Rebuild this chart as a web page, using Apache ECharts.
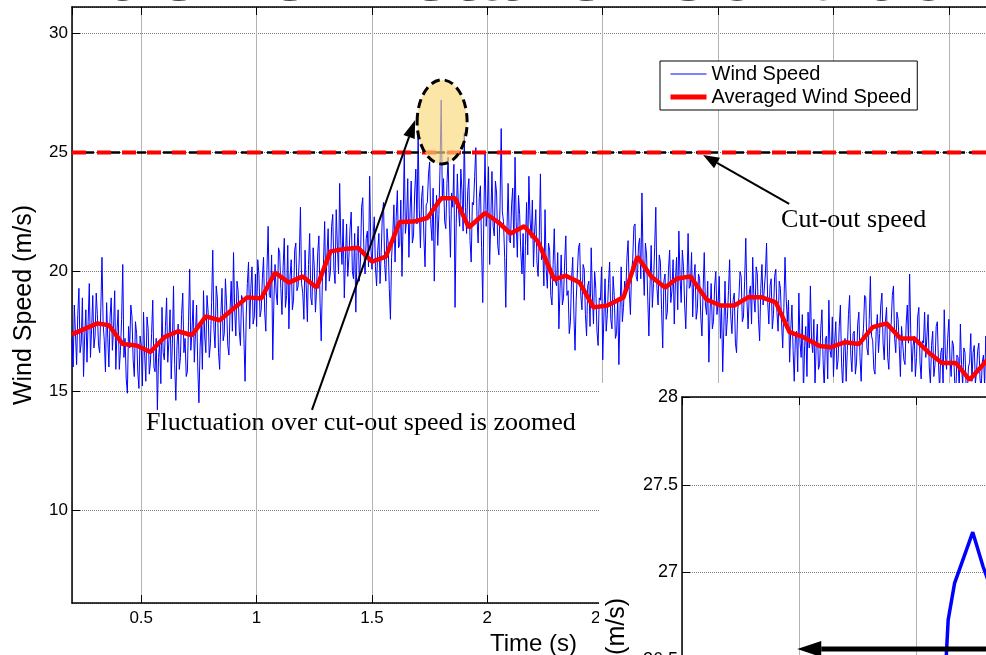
<!DOCTYPE html>
<html>
<head>
<meta charset="utf-8">
<title>Extreme Weather Condition</title>
<script src="https://cdn.jsdelivr.net/npm/echarts@6/dist/echarts.min.js"></script>
<style>
  html, body { margin: 0; padding: 0; background: #fff; }
  #chart { width: 986px; height: 655px; }
</style>
</head>
<body>
<div id="chart"></div>
<script>
// measured wind speed, one sample every 0.005 s starting at 0.200 s
const windStart = 0.2
const windStep = 0.005
const windSpeed = [
  17.2, 16.0, 18.6, 17.4, 16.1, 18.2, 19.3, 16.6, 17.0, 18.9, 15.6, 17.3, 18.4, 16.2, 17.9, 19.5, 16.4, 17.6, 19.0, 16.8,
  17.3, 19.1, 18.2, 16.9, 16.6, 18.5, 20.6, 17.8, 17.1, 15.8, 18.7, 17.2, 16.0, 18.1, 18.9, 16.7, 17.6, 19.2, 15.9, 17.5,
  18.4, 15.9, 16.7, 18.0, 20.3, 16.4, 17.2, 15.5, 14.9, 17.7, 16.8, 18.6, 18.1, 16.3, 15.6, 17.9, 17.4, 15.8, 15.1, 17.3,
  16.9, 15.2, 18.3, 16.5, 15.4, 18.1, 17.6, 15.7, 16.2, 17.4, 18.8, 16.0, 15.8, 17.2, 14.2, 16.4, 17.0, 15.3, 18.5, 16.6,
  16.3, 17.7, 18.9, 16.2, 17.1, 18.4, 15.5, 17.0, 19.4, 16.1, 14.6, 16.9, 17.8, 15.9, 16.4, 18.2, 19.1, 16.6, 17.2, 15.6,
  15.8, 17.9, 20.1, 16.7, 17.5, 18.8, 16.2, 17.4, 18.6, 16.0, 14.5, 16.8, 17.9, 15.9, 19.2, 17.3, 16.6, 19.0, 18.3, 16.4,
  17.0, 18.7, 20.9, 17.6, 16.8, 19.4, 18.9, 16.6, 15.9, 18.2, 19.3, 17.1, 17.4, 19.7, 18.6, 16.9, 16.5, 18.4, 19.6, 17.5,
  20.8, 18.4, 17.3, 19.6, 19.2, 17.5, 16.9, 19.0, 18.8, 17.2, 15.4, 18.1, 19.5, 20.4, 17.6, 19.3, 20.2, 17.8, 18.1, 19.9,
  17.7, 20.5, 19.9, 18.1, 18.4, 19.7, 20.6, 18.3, 17.5, 20.1, 21.9, 19.0, 18.9, 20.7, 16.3, 18.8, 20.3, 19.1, 18.6, 21.0,
  20.8, 19.3, 18.2, 20.2, 21.4, 18.5, 19.0, 21.1, 17.6, 19.8, 20.5, 18.4, 18.8, 20.9, 21.2, 19.2, 19.4, 20.6, 22.7, 19.5,
  19.1, 18.0, 20.9, 19.4, 17.9, 20.3, 21.6, 18.9, 18.6, 21.0, 20.2, 18.3, 19.3, 20.8, 21.5, 18.7, 17.1, 19.6, 20.4, 22.1,
  19.2, 20.7, 21.8, 19.6, 20.0, 21.9, 22.4, 20.1, 19.5, 22.6, 21.1, 19.9, 23.7, 21.2, 20.3, 22.2, 18.9, 20.5, 22.0, 19.8,
  20.6, 21.8, 22.5, 20.0, 19.7, 21.6, 18.3, 20.8, 21.9, 19.6, 20.4, 22.7, 23.1, 20.9, 19.9, 21.4, 21.7, 20.2, 24.0, 21.1,
  20.1, 21.5, 22.3, 20.2, 19.4, 20.9, 21.6, 19.5, 20.8, 22.4, 22.9, 20.3, 19.6, 21.8, 21.2, 19.3, 18.0, 20.6, 21.5, 22.8,
  20.4, 22.3, 23.4, 21.0, 21.1, 23.0, 19.8, 22.1, 25.0, 21.6, 22.2, 23.9, 20.6, 22.5, 23.8, 21.2, 21.5, 23.3, 24.3, 22.0,
  25.7, 22.6, 21.0, 23.1, 23.6, 21.4, 20.2, 22.8, 22.9, 24.1, 24.6, 22.0, 21.3, 23.5, 19.6, 22.2, 23.2, 21.1, 22.4, 24.4,
  27.2, 23.0, 23.9, 22.1, 21.8, 23.7, 24.8, 22.4, 20.6, 23.3, 22.7, 24.5, 18.5, 22.0, 24.1, 22.6, 21.9, 24.3, 23.4, 21.7,
  25.8, 22.7, 21.6, 23.4, 23.9, 21.3, 20.4, 22.9, 22.8, 24.0, 25.2, 22.3, 21.2, 23.1, 23.6, 21.0, 18.7, 22.5, 25.0, 21.9,
  22.6, 24.4, 20.3, 22.2, 24.2, 21.9, 21.5, 23.8, 23.3, 21.1, 20.7, 22.8, 26.0, 22.5, 22.1, 20.6, 18.5, 21.7, 23.7, 21.3,
  21.2, 22.8, 23.5, 21.0, 24.8, 22.1, 20.6, 23.2, 22.4, 20.8, 19.9, 21.6, 18.8, 21.1, 22.9, 20.7, 24.0, 22.2, 21.4, 23.0,
  20.2, 21.7, 22.6, 20.4, 19.8, 21.5, 24.1, 20.5, 21.0, 19.4, 22.6, 20.1, 19.3, 21.2, 20.9, 19.0, 18.6, 20.3, 21.8, 19.6,
  19.4, 20.8, 17.6, 19.3, 20.7, 18.6, 18.9, 20.4, 21.5, 19.0, 19.2, 17.4, 17.9, 19.7, 20.6, 18.2, 16.7, 18.8, 19.9, 21.0,
  21.2, 19.0, 18.4, 20.3, 20.1, 18.2, 17.3, 19.4, 19.6, 17.7, 21.0, 19.1, 17.8, 20.0, 19.3, 17.5, 16.9, 18.9, 18.8, 20.2,
  16.3, 18.1, 19.7, 17.5, 18.2, 19.5, 20.4, 18.0, 17.6, 19.8, 19.0, 17.2, 17.4, 18.9, 16.1, 18.4, 20.2, 17.9, 18.5, 19.6,
  19.1, 20.6, 21.3, 19.2, 18.2, 20.0, 20.5, 21.9, 22.0, 19.8, 19.6, 21.1, 21.4, 19.7, 23.3, 20.4, 19.0, 21.2, 20.7, 18.9,
  17.3, 19.4, 21.1, 18.5, 19.5, 21.0, 22.7, 19.3, 18.6, 20.7, 20.4, 18.4, 16.8, 19.6, 19.9, 18.0, 18.3, 20.1, 20.9, 18.7,
  19.2, 20.5, 17.8, 19.6, 20.6, 18.4, 21.7, 19.8, 18.7, 20.9, 20.2, 18.6, 17.6, 19.5, 21.6, 19.3, 19.4, 20.8, 18.1, 19.7,
  20.3, 18.0, 18.4, 19.9, 19.7, 18.1, 17.3, 19.2, 20.8, 18.6, 18.2, 19.6, 16.2, 18.3, 19.5, 17.6, 17.9, 19.4, 20.0, 18.2,
  18.7, 19.8, 17.2, 18.5, 15.8, 17.7, 19.6, 17.3, 18.0, 19.2, 20.5, 18.1, 17.4, 18.8, 19.1, 17.0, 16.6, 18.4, 18.9, 20.0,
  19.8, 17.9, 18.1, 19.6, 21.4, 18.8, 17.6, 19.1, 19.4, 17.8, 20.6, 18.9, 18.3, 20.2, 19.9, 18.0, 17.1, 19.3, 20.3, 18.6,
  18.6, 19.9, 21.2, 18.7, 17.8, 19.4, 19.7, 17.6, 18.2, 19.8, 20.1, 18.3, 17.5, 19.6, 19.3, 17.9, 16.8, 18.5, 20.6, 18.9,
  17.9, 18.8, 16.2, 17.6, 18.6, 16.7, 15.4, 17.3, 17.5, 15.8, 19.1, 17.0, 16.4, 18.2, 14.9, 16.9, 17.7, 15.6, 18.3, 16.8,
  19.4, 17.1, 16.6, 18.0, 15.2, 16.9, 17.8, 15.9, 16.1, 17.6, 18.4, 16.3, 15.0, 17.2, 17.3, 15.5, 18.8, 16.7, 16.4, 18.1,
  15.6, 17.0, 17.9, 15.9, 16.3, 17.7, 18.6, 16.2, 15.1, 16.8, 17.2, 15.4, 16.7, 18.2, 19.0, 16.5, 15.8, 17.4, 17.5, 15.7,
  16.2, 17.8, 18.3, 16.4, 15.4, 17.1, 17.6, 19.0, 18.9, 16.8, 16.5, 18.0, 19.8, 17.3, 17.1, 15.9, 15.7, 17.5, 18.2, 16.6,
  17.4, 18.6, 19.1, 17.0, 16.3, 17.9, 18.5, 16.4, 15.9, 17.6, 17.8, 19.0, 19.4, 17.2, 16.6, 18.3, 18.0, 16.9, 15.6, 17.7,
  17.7, 16.3, 16.1, 17.8, 18.6, 17.0, 19.9, 17.4, 15.8, 16.9, 17.3, 15.6, 16.4, 18.1, 18.5, 16.2, 15.5, 17.1, 17.0, 18.3,
  16.4, 17.3, 18.2, 16.0, 15.3, 16.9, 17.5, 15.6, 16.1, 17.7, 17.9, 16.2, 15.0, 16.6, 16.8, 15.2, 18.4, 16.5, 15.9, 17.2,
  18.0, 16.3, 15.6, 17.1, 16.9, 15.4, 14.8, 16.5, 16.4, 15.0, 17.8, 16.1, 15.2, 16.8, 16.6, 15.1, 14.9, 16.0, 16.2, 17.4,
  15.4, 16.6, 16.9, 15.3, 15.8, 16.7, 17.0, 15.5, 15.1, 16.2, 16.5, 15.2, 17.3, 16.0, 15.6, 16.9, 16.8, 15.4, 15.9, 16.6, 16.4
]

// averaged wind speed (red)
const avgTime = [
  0.20, 0.31, 0.36, 0.42, 0.48, 0.54, 0.60, 0.66, 0.72, 0.78,
  0.84, 0.90, 0.96, 1.02, 1.08, 1.14, 1.20, 1.26, 1.32, 1.38,
  1.44, 1.50, 1.56, 1.62, 1.68, 1.74, 1.80, 1.86, 1.92, 1.99,
  2.05, 2.10, 2.16, 2.22, 2.29, 2.34, 2.40, 2.46, 2.52, 2.59,
  2.65, 2.71, 2.77, 2.82, 2.88, 2.95, 3.01, 3.07, 3.13, 3.19,
  3.25, 3.31, 3.37, 3.44, 3.49, 3.55, 3.61, 3.67, 3.73, 3.79,
  3.85, 3.91, 3.97, 4.03, 4.09, 4.17, 4.20
]
const avgSpeed = [
  17.37, 17.83, 17.75, 16.96, 16.90, 16.63, 17.25, 17.50, 17.33, 18.12,
  17.96, 18.45, 18.92, 18.87, 19.96, 19.54, 19.80, 19.33, 20.85, 20.95,
  21.00, 20.42, 20.63, 22.08, 22.10, 22.25, 23.08, 23.08, 21.85, 22.46,
  22.05, 21.60, 21.90, 21.25, 19.67, 19.83, 19.54, 18.50, 18.58, 18.92,
  20.63, 19.80, 19.33, 19.70, 19.80, 18.83, 18.58, 18.58, 18.92, 18.92,
  18.71, 17.46, 17.25, 16.88, 16.83, 17.04, 16.96, 17.67, 17.83, 17.20,
  17.20, 16.63, 16.17, 16.17, 15.46, 16.33, 16.60
]

const cutOutSpeed = 25

// zoomed view of the spike
const insetTime = [1.80048, 1.80052, 1.80055, 1.80066, 1.80097, 1.80115, 1.80135]
const insetSpeed = [26.10, 26.54, 26.73, 26.94, 27.23, 27.03, 26.85]

const windData = windSpeed.map((v, i) => [Number((windStart + i * windStep).toFixed(3)), v])
const avgData = avgTime.map((t, i) => [t, avgSpeed[i]])
const cutData = [[0.2, cutOutSpeed], [4.2, cutOutSpeed]]
const insetData = insetTime.map((t, i) => [t, insetSpeed[i]])

const chart = echarts.init(document.getElementById('chart'))

const axisCol = '#000'
const gridV = { show: true, lineStyle: { color: '#b4b4b4', width: 1 } }
const gridH = { show: true, lineStyle: { color: '#7a7a7a', width: 1, type: 'dotted' } }

chart.setOption({
  animation: false,
  backgroundColor: '#fff',
  legend: {
    data: [
      { name: 'Wind Speed', lineStyle: { width: 1 } },
      { name: 'Averaged Wind Speed', lineStyle: { width: 5 } }
    ],
    orient: 'vertical',
    left: 660,
    top: 61,
    backgroundColor: '#fff',
    borderColor: '#000',
    borderWidth: 1,
    borderRadius: 0,
    padding: [3, 6, 3, 8],
    itemGap: 3,
    itemWidth: 36,
    itemHeight: 20,
    itemStyle: { opacity: 0 },
    textStyle: { fontSize: 20, fontFamily: 'Arial', color: '#000' },
    z: 6
  },
  grid: [
    { left: 72, top: 7, right: -9, bottom: 52, outerBoundsMode: 'none', containLabel: false },
    { left: 682, top: 397, right: -47, bottom: -344, outerBoundsMode: 'none', containLabel: false }
  ],
  xAxis: [
    {
      gridIndex: 0, type: 'value', min: 0.2, max: 4.2, splitNumber: 8, position: 'bottom',
      axisLine: { onZero: false, lineStyle: { color: axisCol, width: 1.5 } },
      axisTick: { inside: true, length: 8, lineStyle: { color: axisCol } },
      axisLabel: { color: '#000', fontSize: 17, fontFamily: 'Arial', margin: 7, showMinLabel: false, showMaxLabel: false },
      splitLine: gridV,
      name: 'Time (s)', nameLocation: 'middle', nameGap: 19,
      nameTextStyle: { fontSize: 24, color: '#000', fontFamily: 'Arial' }
    },
    {
      gridIndex: 0, type: 'value', min: 0.2, max: 4.2, splitNumber: 8, position: 'top',
      axisLine: { onZero: false, lineStyle: { color: axisCol, width: 1.5 } },
      axisTick: { inside: true, length: 8, lineStyle: { color: axisCol } },
      axisLabel: { show: false },
      splitLine: { show: false }
    },
    {
      gridIndex: 1, type: 'value', min: 1.796, max: 1.802, interval: 0.002, position: 'bottom', z: 10,
      axisLine: { onZero: false, lineStyle: { color: axisCol, width: 1.5 } },
      axisTick: { inside: true, length: 8, lineStyle: { color: axisCol } },
      axisLabel: { show: false },
      splitLine: gridV
    },
    {
      gridIndex: 1, type: 'value', min: 1.796, max: 1.802, interval: 0.002, position: 'top', z: 10,
      axisLine: { onZero: false, lineStyle: { color: axisCol, width: 1.5 } },
      axisTick: { inside: true, length: 8, lineStyle: { color: axisCol } },
      axisLabel: { show: false },
      splitLine: { show: false }
    }
  ],
  yAxis: [
    {
      gridIndex: 0, type: 'value', min: 6.1, max: 31.1, splitNumber: 5,
      axisLine: { show: true, onZero: false, lineStyle: { color: axisCol, width: 1.5 } },
      axisTick: { show: true, inside: true, length: 8, lineStyle: { color: axisCol } },
      axisLabel: { color: '#000', fontSize: 17, fontFamily: 'Arial', margin: 4, showMinLabel: false, showMaxLabel: false },
      splitLine: gridH,
      name: 'Wind Speed (m/s)', nameLocation: 'middle', nameGap: 35,
      nameTextStyle: { fontSize: 25, color: '#000', fontFamily: 'Arial' }
    },
    {
      gridIndex: 1, type: 'value', min: 24.57, max: 28, splitNumber: 7, z: 10,
      axisLine: { show: true, onZero: false, lineStyle: { color: axisCol, width: 1.5 } },
      axisTick: { show: true, inside: true, length: 8, lineStyle: { color: axisCol } },
      axisLabel: { color: '#000', fontSize: 18, fontFamily: 'Arial', margin: 4, showMinLabel: false },
      splitLine: gridH,
      name: 'Wind Speed (m/s)', nameLocation: 'middle', nameGap: 52,
      nameTextStyle: { fontSize: 25, color: '#000', fontFamily: 'Arial' }
    }
  ],
  series: [
    {
      name: 'Wind Speed', type: 'line', xAxisIndex: 0, yAxisIndex: 0,
      data: windData, symbol: 'none', z: 2,
      lineStyle: { color: '#0000ff', width: 1 }, itemStyle: { color: '#0000ff' }
    },
    {
      name: 'Averaged Wind Speed', type: 'line', xAxisIndex: 0, yAxisIndex: 0,
      data: avgData, symbol: 'none', z: 3,
      lineStyle: { color: '#ff0000', width: 4.5 }, itemStyle: { color: '#ff0000' }
    },
    {
      name: 'cut-out black', type: 'line', xAxisIndex: 0, yAxisIndex: 0,
      data: cutData, symbol: 'none', z: 3, silent: true,
      lineStyle: { color: '#000', width: 2.5, type: [9, 4] }
    },
    {
      name: 'cut-out red', type: 'line', xAxisIndex: 0, yAxisIndex: 0,
      data: cutData, symbol: 'none', z: 4, silent: true,
      lineStyle: { color: '#ff0000', width: 4, type: [14, 11] }
    },
    {
      name: 'zoomed', type: 'line', xAxisIndex: 2, yAxisIndex: 1,
      data: insetData, symbol: 'none', z: 12, silent: true,
      lineStyle: { color: '#0000ff', width: 3.5 }
    }
  ]
})

// annotations, placed from data coordinates
const toMain = (x, y) => chart.convertToPixel({ seriesIndex: 0 }, [x, y])
const toInset = (x, y) => chart.convertToPixel({ seriesIndex: 4 }, [x, y])

function arrow(from, to, lw, headLen, headW, z) {
  const dx = to[0] - from[0], dy = to[1] - from[1]
  const len = Math.sqrt(dx * dx + dy * dy)
  const ux = dx / len, uy = dy / len
  const bx = to[0] - ux * headLen, by = to[1] - uy * headLen
  const nx = -uy * headW / 2, ny = ux * headW / 2
  return [
    { type: 'line', z: z, shape: { x1: from[0], y1: from[1], x2: bx, y2: by },
      style: { stroke: '#000', lineWidth: lw } },
    { type: 'polygon', z: z, shape: { points: [to, [bx + nx, by + ny], [bx - nx, by - ny]] },
      style: { fill: '#000' } }
  ]
}

const ell = toMain(1.804, 26.28)
const fluctTxt = toMain(0.521, 13.65)
const cutTxt = toMain(3.273, 22.17)

chart.setOption({
  graphic: [
    // page title, almost entirely above the visible area
    { type: 'text', z: 1, style: { text: 'Extreme Weather Condition', x: 14, y: -22,
      verticalAlign: 'middle', fontSize: 80, fontFamily: 'Arial', fill: '#444' } },
    { type: 'ellipse', z: 6, shape: { cx: ell[0], cy: ell[1], rx: 25, ry: 42 },
      style: { fill: 'rgba(249,217,122,0.65)', stroke: '#000', lineWidth: 3, lineDash: [9, 5] } },
    ...arrow(toMain(1.240, 14.2), toMain(1.687, 26.36), 2, 18, 12, 7),
    ...arrow(toMain(3.308, 22.84), toMain(2.935, 24.89), 2, 16, 12, 7),
    { type: 'text', z: 7, style: { text: 'Fluctuation over cut-out speed is zoomed', x: fluctTxt[0], y: fluctTxt[1],
      verticalAlign: 'middle', fontSize: 26, fontFamily: 'Liberation Serif', fill: '#000' } },
    { type: 'text', z: 7, style: { text: 'Cut-out speed', x: cutTxt[0], y: cutTxt[1],
      verticalAlign: 'middle', fontSize: 26, fontFamily: 'Liberation Serif', fill: '#000' } },
    // white panel of the zoomed axes, over the main plot
    { type: 'rect', z: 5, shape: { x: 599, y: 383, width: 400, height: 290 }, style: { fill: '#fff' } },
    ...arrow(toInset(1.8016, 26.564), toInset(1.79797, 26.564), 5, 24, 16, 13)
  ]
})
</script>
</body>
</html>
